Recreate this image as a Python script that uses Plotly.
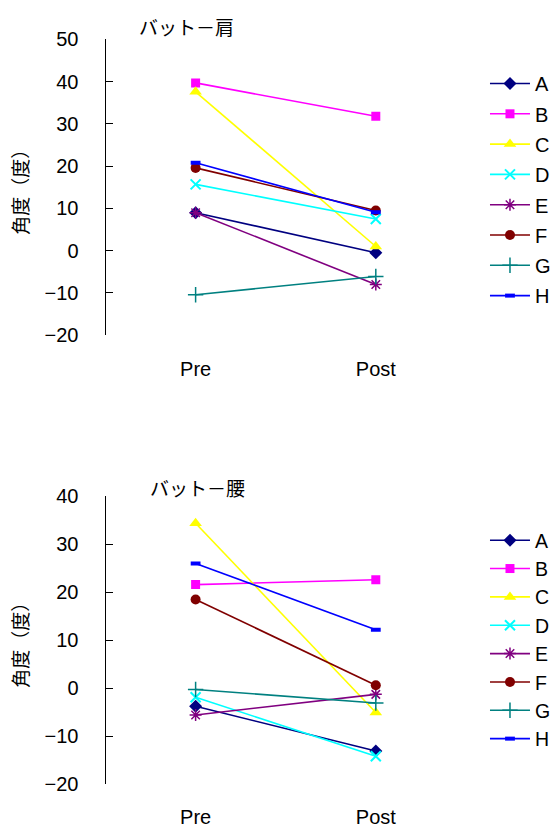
import plotly.graph_objects as go

# Measurement phases on the x axis
phases = ["Pre", "Post"]
subjects = ["A", "B", "C", "D", "E", "F", "G", "H"]

# Bat-to-shoulder angle (deg), Pre / Post for each subject
shoulder_A = [9.0, -0.5]
shoulder_B = [39.7, 31.8]
shoulder_C = [37.6, 1.0]
shoulder_D = [15.7, 7.5]
shoulder_E = [9.0, -8.0]
shoulder_F = [19.6, 9.5]
shoulder_G = [-10.4, -6.1]
shoulder_H = [20.8, 9.1]

# Bat-to-hip angle (deg), Pre / Post for each subject
hip_A = [-3.8, -13.1]
hip_B = [21.6, 22.6]
hip_C = [34.4, -5.1]
hip_D = [-1.9, -14.2]
hip_E = [-5.6, -1.3]
hip_F = [18.5, 0.6]
hip_G = [-0.3, -3.1]
hip_H = [26.0, 12.2]

shoulder_ticks = [50, 40, 30, 20, 10, 0, -10, -20]
hip_ticks = [40, 30, 20, 10, 0, -10, -20]

shoulder = [shoulder_A, shoulder_B, shoulder_C, shoulder_D,
            shoulder_E, shoulder_F, shoulder_G, shoulder_H]
hip = [hip_A, hip_B, hip_C, hip_D, hip_E, hip_F, hip_G, hip_H]

colors = ["#000080", "#FF00FF", "#FFFF00", "#00FFFF",
          "#800080", "#800000", "#008080", "#0000FF"]
symbols = ["diamond", "square", "triangle-up", "x-thin-open",
           "asterisk-open", "circle", "cross-thin-open", "line-ew-open"]
sizes = [10, 9, 11, 10, 10, 10, 11, 7]
mline = [0, 0, 0, 2, 1.5, 0, 1.5, 4]

FONT = "Liberation Sans, Arial, sans-serif"
JFONT = "Noto Sans CJK JP, sans-serif"

fig = go.Figure()

for i, name in enumerate(subjects):
    # shoulder chart: one legend group per subject so the group gap spaces rows
    fig.add_trace(go.Scatter(
        x=phases, y=shoulder[i], name=name, mode="lines+markers",
        xaxis="x", yaxis="y", legend="legend", legendgroup="s" + name,
        line=dict(color=colors[i], width=1.6),
        marker=dict(symbol=symbols[i], size=sizes[i], color=colors[i],
                    line=dict(color=colors[i], width=mline[i])),
    ))
    # hip chart
    fig.add_trace(go.Scatter(
        x=phases, y=hip[i], name=name, mode="lines+markers",
        xaxis="x2", yaxis="y2", legend="legend2",
        line=dict(color=colors[i], width=1.6),
        marker=dict(symbol=symbols[i], size=sizes[i], color=colors[i],
                    line=dict(color=colors[i], width=mline[i])),
    ))

xdom = [0.1908, 0.8425]

def yaxis(rng, ticks, dom):
    return dict(range=rng, tickvals=ticks, domain=dom, ticks="inside",
                ticklen=7, tickcolor="#000", showline=True, linecolor="#000",
                linewidth=1, showgrid=False, zeroline=False, automargin=False,
                ticklabelstandoff=22,
                tickfont=dict(family=FONT, size=20, color="#000"),
                title=dict(text="角度（度）", standoff=10,
                           font=dict(family=JFONT, size=19, color="#000")))

def xaxis(dom, anchor, standoff):
    return dict(type="category", range=[-0.5, 1.5], domain=dom, anchor=anchor,
                showline=False, showgrid=False, zeroline=False, ticks="",
                automargin=False, ticklabelstandoff=standoff,
                tickfont=dict(family=FONT, size=20, color="#000"))

legend_common = dict(xanchor="left", yanchor="top", bgcolor="rgba(0,0,0,0)",
                     itemwidth=40)

fig.update_layout(
    width=553, height=827,
    margin=dict(l=0, r=0, t=0, b=0, autoexpand=False),
    paper_bgcolor="white", plot_bgcolor="white",
    xaxis=xaxis(xdom, "y", 20),
    yaxis=yaxis([-20, 50], shoulder_ticks, [0.5946, 0.9524]),
    xaxis2=xaxis(xdom, "y2", 19),
    yaxis2=yaxis([-20, 40], hip_ticks, [0.052, 0.3998]),
    legend=dict(x=0.877, y=0.9226, tracegroupgap=1.3,
                font=dict(family=FONT, size=20, color="#000"),
                **legend_common),
    legend2=dict(x=0.877, y=0.370,
                 font=dict(family=FONT, size=19.5, color="#000"),
                 **legend_common),
    annotations=[
        dict(text="バット－肩", x=137 / 553, y=1 - 27 / 827, xref="paper",
             yref="paper", xanchor="left", yanchor="middle", showarrow=False,
             font=dict(family=JFONT, size=19, color="#000")),
        dict(text="バット－腰", x=148 / 553, y=1 - 487 / 827, xref="paper",
             yref="paper", xanchor="left", yanchor="middle", showarrow=False,
             font=dict(family=JFONT, size=19, color="#000")),
    ],
)

fig.write_html("out.html")
